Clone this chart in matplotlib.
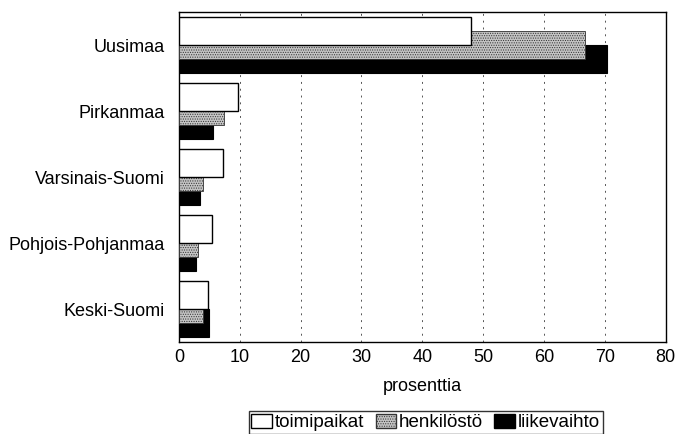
import numpy as np
import matplotlib
matplotlib.use("Agg")
import matplotlib.pyplot as plt
from matplotlib.patches import Patch

plt.rcParams['font.family'] = ['Liberation Sans', 'DejaVu Sans']
plt.rcParams['hatch.linewidth'] = 0.5
plt.rcParams['hatch.color'] = '#444444'

regions = ["Uusimaa", "Pirkanmaa", "Varsinais-Suomi", "Pohjois-Pohjanmaa", "Keski-Suomi"]
toimipaikat = [48.0, 9.7, 7.3, 5.4, 4.8]
henkilosto = [66.7, 7.4, 4.0, 3.1, 4.0]
liikevaihto = [70.3, 5.6, 3.5, 2.8, 5.0]

fig = plt.figure(figsize=(6.8, 4.34), dpi=100)
ax = fig.add_axes([0.263, 0.212, 0.716, 0.760])

y = np.arange(len(regions))
h = 0.43
off = 0.21

ax.barh(y + off, liikevaihto, height=h, color='black', edgecolor='black', linewidth=0.8, zorder=2)
ax.barh(y, henkilosto, height=h, color='#c4c4c4', edgecolor='#333333', hatch='.......', linewidth=0.6, zorder=3)
ax.barh(y - off, toimipaikat, height=h, color='white', edgecolor='black', linewidth=1.0, zorder=4)

ax.set_ylim(len(regions) - 0.5, -0.5)
ax.set_xlim(0, 80)
ax.set_xticks(range(0, 81, 10))
ax.set_yticks(y)
ax.set_yticklabels(regions, fontsize=13)
ax.tick_params(axis='x', labelsize=13, length=0, pad=5)
ax.tick_params(axis='y', length=0, pad=10)
ax.grid(axis='x', linestyle=(0, (2, 5)), color='#555555', linewidth=0.7, zorder=1)
for s in ax.spines.values():
    s.set_linewidth(1.0)
ax.set_xlabel("prosenttia", fontsize=13, labelpad=9)

handles = [Patch(facecolor='white', edgecolor='black', label='toimipaikat'),
           Patch(facecolor='#c4c4c4', edgecolor='#333333', hatch='.......', label='henkilöstö'),
           Patch(facecolor='black', edgecolor='black', label='liikevaihto')]
leg = fig.legend(handles=handles, loc='lower center', bbox_to_anchor=(0.626, 0.0), ncol=3,
                 fontsize=13.5, frameon=True, fancybox=False, edgecolor='black',
                 handlelength=1.1, handleheight=0.8, handletextpad=0.15, columnspacing=0.6,
                 borderpad=0.15, borderaxespad=0.0)
leg.get_frame().set_linewidth(1.0)

fig.savefig("out.png", dpi=100)
